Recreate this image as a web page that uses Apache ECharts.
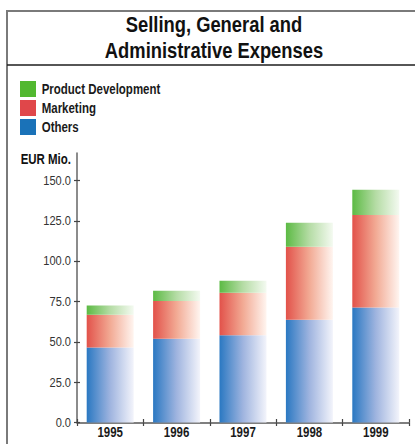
<!DOCTYPE html>
<html>
<head>
<meta charset="utf-8">
<style>
  html, body { margin: 0; padding: 0; background: #ffffff; }
  #chart { width: 415px; height: 444px; }
</style>
<script src="https://cdn.jsdelivr.net/npm/echarts@6/dist/echarts.min.js"></script>
</head>
<body>
<div id="chart"></div>
<script>
// SG&A expenses by year, EUR millions
const years = ['1995', '1996', '1997', '1998', '1999'];
const others = [46.5, 51.9, 54.0, 63.7, 71.3];
const marketing = [20.3, 23.4, 26.4, 45.2, 57.3];
const productDevelopment = [5.7, 6.3, 7.4, 14.9, 15.7];
const yTicks = [0, 25, 50, 75, 100, 125, 150];

const seriesNames = ['Others', 'Marketing', 'Product Development'];
const legendOrder = ['Product Development', 'Marketing', 'Others'];
const solidColors = { 'Product Development': '#52b830', 'Marketing': '#e0474a', 'Others': '#1a72b8' };

// Arial-metric sans, squeezed horizontally to a narrow cut
const FONT = "'Liberation Sans', Arial, sans-serif";
const NARROW = 0.82;

function hGrad(c0, c1, c2) {
  return new echarts.graphic.LinearGradient(0, 0, 1, 0, [
    { offset: 0, color: c0 },
    { offset: 0.5, color: c1 },
    { offset: 1, color: c2 }
  ]);
}

function narrowText(text, x, y, size, weight, color, align, squeeze) {
  return {
    type: 'text', x: x, y: y, scaleX: squeeze || NARROW, scaleY: 1,
    style: {
      text: text, fontFamily: FONT, fontSize: size, fontWeight: weight,
      fill: color, align: align, verticalAlign: 'middle'
    }
  };
}

const chart = echarts.init(document.getElementById('chart'), null, { renderer: 'svg' });

const tickStyle = { color: '#444444', width: 1.2 };

chart.setOption({
  animation: false,
  backgroundColor: '#ffffff',
  grid: { left: 77, right: 6, top: 153, bottom: 21.5 },
  xAxis: [
    {
      type: 'category',
      data: years,
      axisLine: { lineStyle: { color: '#555555', width: 1.5 } },
      axisTick: { show: true, length: 3.5, lineStyle: tickStyle },
      axisLabel: { show: false }
    },
    {
      type: 'category',
      data: years,
      position: 'bottom',
      axisLine: { show: false },
      axisTick: { show: true, inside: true, length: 3.5, lineStyle: tickStyle },
      axisLabel: { show: false }
    }
  ],
  yAxis: [
    {
      type: 'value',
      min: 0, max: 167, interval: 25,
      axisLine: { show: true, lineStyle: { color: '#666666', width: 1.5 } },
      axisTick: { show: true, length: 3, customValues: yTicks, lineStyle: tickStyle },
      axisLabel: { show: false },
      splitLine: { show: false }
    },
    {
      type: 'value',
      min: 0, max: 167, interval: 25,
      position: 'left',
      axisLine: { show: false },
      axisTick: { show: true, inside: true, length: 3, customValues: yTicks, lineStyle: tickStyle },
      axisLabel: { show: false },
      splitLine: { show: false }
    }
  ],
  series: [
    {
      name: seriesNames[0], type: 'bar', stack: 'sga', barWidth: 47,
      data: others,
      itemStyle: { color: hGrad('#2a78c2', '#9fb4df', '#f3f4fb') }
    },
    {
      name: seriesNames[1], type: 'bar', stack: 'sga', barWidth: 47,
      data: marketing,
      itemStyle: { color: hGrad('#e2524a', '#f2aa94', '#fff5f0') }
    },
    {
      name: seriesNames[2], type: 'bar', stack: 'sga', barWidth: 47,
      data: productDevelopment,
      itemStyle: { color: hGrad('#5cba44', '#b5dca5', '#f4faf1') }
    }
  ]
});

// Frame, title, legend and axis texts in the narrow lettering
const g = [
  { type: 'line', shape: { x1: 7, y1: 11, x2: 415, y2: 11 }, style: { stroke: '#7a7a7a', lineWidth: 2 } },
  { type: 'line', shape: { x1: 7, y1: 10, x2: 7, y2: 444 }, style: { stroke: '#7a7a7a', lineWidth: 2 } },
  { type: 'line', shape: { x1: 7, y1: 65, x2: 415, y2: 65 }, style: { stroke: '#1e1e1e', lineWidth: 1.5 } },
  narrowText('Selling, General and', 214, 24.7, 22, 'bold', '#111111', 'center', 0.835),
  narrowText('Administrative Expenses', 214, 50.7, 22, 'bold', '#111111', 'center', 0.835),
  narrowText('EUR Mio.', 71, 158.6, 14, 'bold', '#111111', 'right')
];

legendOrder.forEach((name, i) => {
  const top = 81 + i * 19;
  g.push({ type: 'rect', shape: { x: 20, y: top, width: 16, height: 16 }, style: { fill: solidColors[name] } });
  g.push(narrowText(name, 41.7, top + 8, 14, 'bold', '#1a1a1a', 'left'));
});

yTicks.forEach(v => {
  const py = chart.convertToPixel({ yAxisIndex: 0 }, v);
  g.push(narrowText(v.toFixed(1), 71, py, 13.5, 'normal', '#333333', 'right'));
});

years.forEach((yr, i) => {
  const px = chart.convertToPixel({ xAxisIndex: 0 }, i);
  g.push(narrowText(yr, px, 431.6, 14, 'bold', '#1a1a1a', 'center'));
});

chart.setOption({ graphic: g });
</script>
</body>
</html>
